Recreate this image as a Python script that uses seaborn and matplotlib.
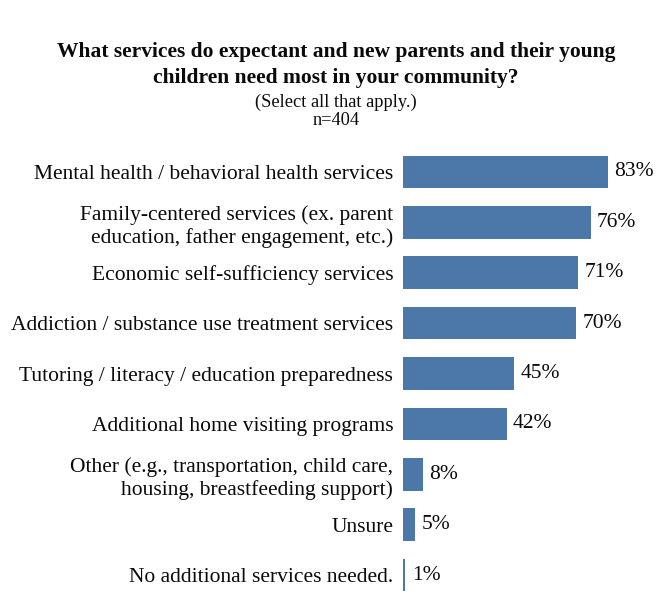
import matplotlib
matplotlib.use("Agg")
import matplotlib.pyplot as plt
import seaborn as sns
import pandas as pd

categories = [
    "Mental health / behavioral health services",
    "Family-centered services (ex. parent\neducation, father engagement, etc.)",
    "Economic self-sufficiency services",
    "Addiction / substance use treatment services",
    "Tutoring / literacy / education preparedness",
    "Additional home visiting programs",
    "Other (e.g., transportation, child care,\nhousing, breastfeeding support)",
    "Unsure",
    "No additional services needed.",
]
percentages = [83, 76, 71, 70, 45, 42, 8, 5, 1]

title_lines = [
    "What services do expectant and new parents and their young",
    "children need most in your community?",
]
subtitle = "(Select all that apply.)"
sample_size = "n=404"

sns.set_theme(style="white")
plt.rcParams["font.family"] = ["Liberation Serif", "DejaVu Serif"]

df = pd.DataFrame({"service": categories, "pct": percentages})

fig = plt.figure(figsize=(6.58, 6.07), dpi=100)
W, H = 658, 607
left_px, right_px = 403, 650
top_px, bot_px = 146.8, 600.2
ax = fig.add_axes([left_px / W, 1 - bot_px / H,
                   (right_px - left_px) / W, (bot_px - top_px) / H])

sns.barplot(data=df, x="pct", y="service", color="#4b78a8", width=0.65,
            saturation=1, ax=ax, orient="h", linewidth=0)
ax.set_xlim(0, 100)
ax.set_xlabel("")
ax.set_ylabel("")
ax.set_xticks([])
for s in ax.spines.values():
    s.set_visible(False)
ax.tick_params(axis="y", length=0, pad=7, labelsize=15.5, labelcolor="#0a0a0a")
for lbl in ax.get_yticklabels():
    lbl.set_horizontalalignment("right")
    lbl.set_multialignment("right")
    lbl.set_linespacing(1.22)

for i, v in enumerate(percentages):
    ax.annotate(f"{v}%", xy=(v, i), xytext=(4.5, 0), textcoords="offset points",
                va="center", ha="left", fontsize=15.5, color="#0a0a0a")

cx = 336 / W
fig.text(cx, 1 - 56.7 / H, title_lines[0], ha="center", va="baseline",
         fontsize=15.5, fontweight="bold", color="#0a0a0a")
fig.text(cx, 1 - 82.7 / H, title_lines[1], ha="center", va="baseline",
         fontsize=15.5, fontweight="bold", color="#0a0a0a")
fig.text(cx, 1 - 106.7 / H, subtitle, ha="center", va="baseline",
         fontsize=13.2, color="#0a0a0a")
fig.text(cx, 1 - 125 / H, sample_size, ha="center", va="baseline",
         fontsize=13.2, color="#0a0a0a")

fig.savefig("out.png", dpi=100)
